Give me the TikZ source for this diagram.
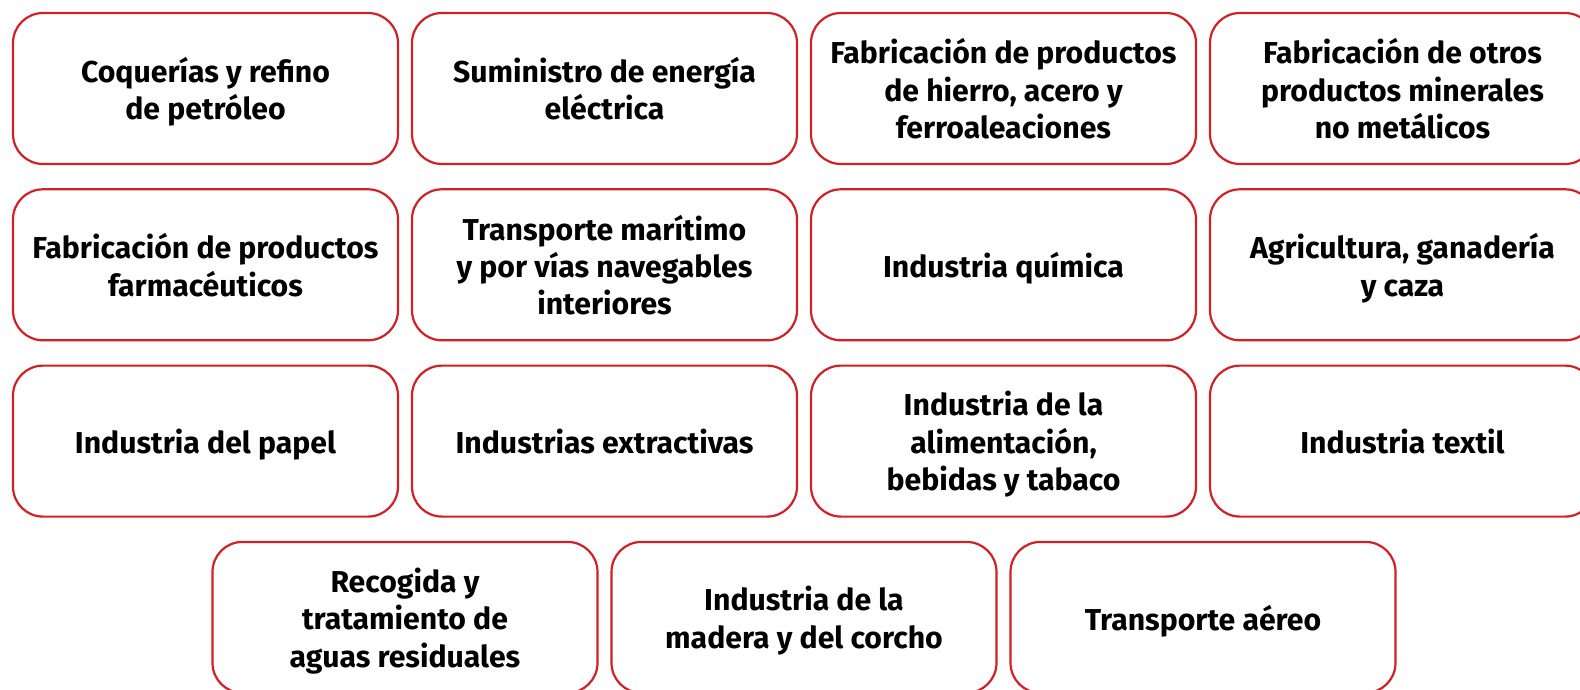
\documentclass[tikz,border=0pt]{standalone}
\usepackage{fontspec}
\setmainfont{Fira Sans}
\usepackage{xcolor}
\usepackage{tikz}
\definecolor{sectorred}{RGB}{208,32,40}

\begin{document}
\begin{tikzpicture}[x=0.5pt, y=-0.5pt,
  sector/.style={draw=sectorred, line width=1.1pt, rounded corners=15pt, fill=white,
    minimum width=192.5pt, minimum height=75.5pt, align=center, text depth=0pt,
    font=\fontsize{15.1}{18.7}\selectfont\bfseries, text=black}]
  \useasboundingbox (0,0) rectangle (1580,690);
  % row 1
  \node[sector] (coque) at (205.5, 88.5) {Coquerías y refino\\de petróleo};
  \node[sector] (energia) at (604.5, 88.5) {Suministro de energía\\eléctrica};
  \node[sector] (hierro) at (1003.5, 88.5) {Fabricación de productos\\de hierro, acero y\\ferroaleaciones};
  \node[sector] (minerales) at (1402.5, 88.5) {Fabricación de otros\\productos minerales\\no metálicos};
  % row 2
  \node[sector] (farma) at (205.5, 264.8) {Fabricación de productos\\farmacéuticos};
  \node[sector] (maritimo) at (604.5, 264.8) {Transporte marítimo\\y por vías navegables\\interiores};
  \node[sector] (quimica) at (1003.5, 264.8) {Industria química};
  \node[sector] (agricultura) at (1402.5, 264.8) {Agricultura, ganadería\\y caza};
  % row 3
  \node[sector] (papel) at (205.5, 441.1) {Industria del papel};
  \node[sector] (extractivas) at (604.5, 441.1) {Industrias extractivas};
  \node[sector] (alimentacion) at (1003.5, 441.1) {Industria de la\\alimentación,\\bebidas y tabaco};
  \node[sector] (textil) at (1402.5, 441.1) {Industria textil};
  % row 4
  \node[sector] (aguas) at (405, 617.4) {Recogida y\\tratamiento de\\aguas residuales};
  \node[sector] (madera) at (804, 617.4) {Industria de la\\madera y del corcho};
  \node[sector] (aereo) at (1203, 617.4) {Transporte aéreo};
\end{tikzpicture}
\end{document}
